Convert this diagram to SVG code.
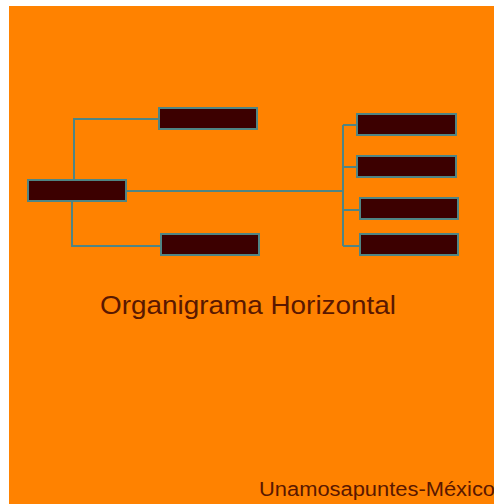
<svg xmlns="http://www.w3.org/2000/svg" width="494" height="504" viewBox="0 0 494 504">
  <style>
    .box { fill: #3c0000; stroke: #4f8584; stroke-width: 2; }
    .link { fill: none; stroke: #4f8584; stroke-width: 2; }
    .title { font-family: "Liberation Sans", Arial, sans-serif; fill: #5a1800; }
  </style>
  <rect x="0" y="0" width="494" height="504" fill="#ffffff"/>
  <rect x="9" y="6" width="485" height="498" fill="#ff8200"/>

  <g id="connectors">
    <!-- root to left-hand branches -->
    <polyline class="link" points="74,179 74,119 159,119"/>
    <polyline class="link" points="72,201 72,246 161,246"/>
    <!-- root to right-hand bus -->
    <line class="link" x1="126" y1="191" x2="343" y2="191"/>
    <line class="link" x1="343" y1="125" x2="343" y2="246"/>
    <line class="link" x1="343" y1="125" x2="357" y2="125"/>
    <line class="link" x1="343" y1="167" x2="357" y2="167"/>
    <line class="link" x1="343" y1="210" x2="359" y2="210"/>
    <line class="link" x1="343" y1="246" x2="361" y2="246"/>
  </g>

  <g id="root"><rect class="box" x="28" y="180" width="98" height="21"/></g>
  <g id="left-top"><rect class="box" x="159" y="108" width="98" height="21"/></g>
  <g id="left-bottom"><rect class="box" x="161" y="234" width="98" height="21"/></g>
  <g id="right-1"><rect class="box" x="357" y="114" width="99" height="21"/></g>
  <g id="right-2"><rect class="box" x="357" y="156" width="99" height="21"/></g>
  <g id="right-3"><rect class="box" x="360" y="198" width="98" height="21"/></g>
  <g id="right-4"><rect class="box" x="360" y="234" width="98" height="21"/></g>

  <text class="title" x="100" y="314" font-size="26" textLength="296" lengthAdjust="spacingAndGlyphs">Organigrama Horizontal</text>
  <text class="title" x="259" y="496" font-size="19.5" textLength="236" lengthAdjust="spacingAndGlyphs">Unamosapuntes-México</text>
</svg>
